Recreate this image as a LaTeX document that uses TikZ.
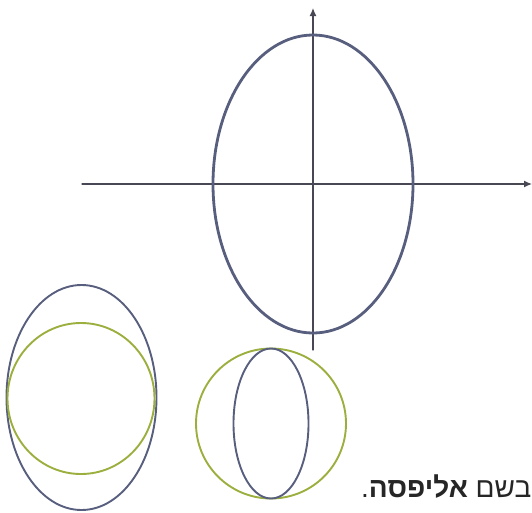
\documentclass[tikz,border=0pt]{standalone}
\usepackage{fontspec}
\usetikzlibrary{arrows.meta}
\newfontfamily\hebfont[Script=Hebrew]{Liberation Sans}
\TeXXeTstate=1
\definecolor{ellblue}{RGB}{88,94,126}
\definecolor{circgreen}{RGB}{155,175,62}
\definecolor{axisgray}{RGB}{72,72,84}
\begin{document}
\begin{tikzpicture}[x=1pt,y=-1pt,>={Latex[length=8pt,width=7pt]},line join=round,line cap=round]
	\tikzset{axis style/.style={axisgray,line width=1.3pt},
		big ellipse/.style={ellblue,line width=2.8pt},
		small ellipse/.style={ellblue,line width=1.9pt},
		small circle/.style={circgreen,line width=1.9pt}}
	%%Khung hình
	\useasboundingbox (0,0) rectangle (532,512);
	\clip (0,0) rectangle (532,512);
	%%Hệ trục
	\coordinate (O) at (313,184);
	\coordinate (xl) at (82,184);
	\coordinate (xr) at (532,184);
	\coordinate (yb) at (313,350);
	\coordinate (yt) at (313,8);
	\draw[axis style,->] (xl)--(xr);
	\draw[axis style,->] (yb)--(yt);
	\draw[big ellipse] (O) ellipse [x radius=100,y radius=149];
	%%Hai hình bên trái và bên phải
	\draw[small ellipse] (81.5,397.5) ellipse [x radius=75,y radius=112.5];
	\draw[small circle] (81,398.5) ellipse [x radius=73.5,y radius=75.5];
	\draw[small circle] (271,423.5) circle [radius=75];
	\draw[small ellipse] (271,423.5) ellipse [x radius=37.5,y radius=75];
	\node[anchor=base west,inner sep=0pt,font=\hebfont\fontsize{28}{32}\selectfont,text=black!85] (txt) at (361,497)
		{\beginR בשם \textbf{אליפסה}.\endR};
\end{tikzpicture}
\end{document}
